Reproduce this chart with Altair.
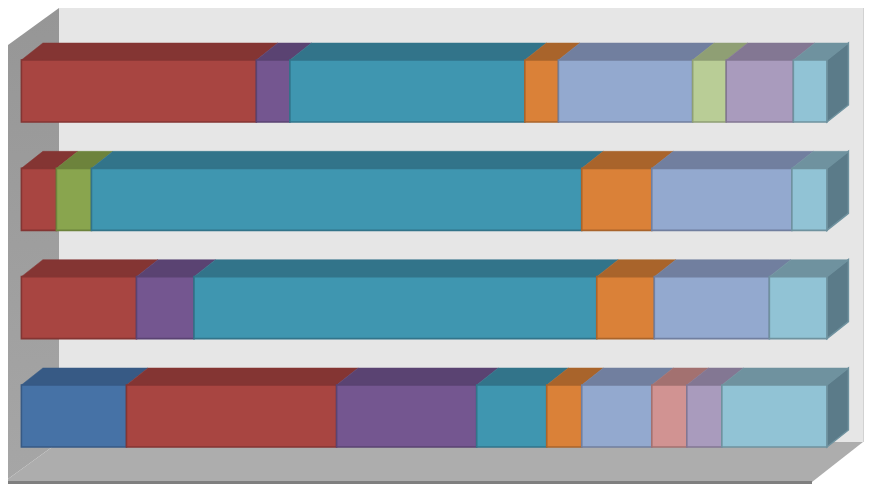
import altair as alt
import pandas as pd

# Series values per row (top to bottom); a 100% stacked 3-D bar chart
series_names = ["S1", "S2", "S3", "S4", "S5", "S6", "S7", "S8", "S9", "S10", "S11"]
row_1 = [0, 7, 0, 1, 7, 1, 4, 0, 1, 2, 1]
row_2 = [0, 1, 1, 0, 14, 2, 4, 0, 0, 0, 1]
row_3 = [0, 2, 0, 1, 7, 1, 2, 0, 0, 0, 1]
row_4 = [3, 6, 0, 4, 2, 1, 2, 1, 0, 1, 3]
front_colors = ["#4672A6", "#A84541", "#89A54E", "#745690", "#3F96B0", "#DA8138",
                "#93A9CF", "#D19392", "#B9CD96", "#A99BBD", "#91C3D5"]
top_colors = ["#375A85", "#843533", "#6D833C", "#5A4372", "#32748A", "#A9642B",
              "#717F9F", "#A37170", "#8F9F74", "#837793", "#6F929F"]
side_color = "#5B7B89"

# Pixel layout of the plotting box
W, H = 856, 476
PX_PER_PCT = 8.055     # horizontal pixels per percentage point
X0_PX = 13.4           # position of 0 %
ROW_PX = 108.33        # spacing of rows
Y0_PX = 52             # top of first bar
BAR_PX = 62            # height of bars
DX = 21.5 / PX_PER_PCT  # depth in % units
DY = 17 / ROW_PX        # depth in row units

x_scale = alt.Scale(domain=[-X0_PX / PX_PER_PCT, (W - X0_PX) / PX_PER_PCT], range=[0, W])
y_scale = alt.Scale(domain=[-Y0_PX / ROW_PX, (H - Y0_PX) / ROW_PX], range=[0, H])
BAR_H = BAR_PX / ROW_PX


def xp(px):
    return (px - X0_PX) / PX_PER_PCT


def yp(py):
    return (py - Y0_PX) / ROW_PX


front, top, side = [], [], []
for r, row in enumerate([row_1, row_2, row_3, row_4]):
    total = sum(row)
    cum = 0
    for i, v in enumerate(row):
        if v == 0:
            continue
        a = cum / total * 100
        cum += v
        b = cum / total * 100
        y0 = r
        y1 = r + BAR_H
        seg = f"{r}-{i}"
        front.append(dict(a=a, b=b, y0=y0, y1=y1, fill=front_colors[i], edge=top_colors[i]))
        top += [
            dict(seg=seg, x=a, y=y0, y2=y0, c=top_colors[i]),
            dict(seg=seg, x=a + DX, y=y0 - DY, y2=y0, c=top_colors[i]),
            dict(seg=seg, x=b, y=y0 - DY, y2=y0, c=top_colors[i]),
            dict(seg=seg, x=b + DX, y=y0 - DY, y2=y0 - DY, c=top_colors[i]),
        ]
    side += [
        dict(seg=r, x=100, y=r, y2=r + BAR_H),
        dict(seg=r, x=100 + DX, y=r - DY, y2=r + BAR_H - DY),
    ]

X = alt.X("x:Q", scale=x_scale, axis=None)
Y = alt.Y("y:Q", scale=y_scale, axis=None)

back_wall = alt.Chart(pd.DataFrame([dict(x=xp(51), x2=xp(855), y=yp(0), y2=yp(434))])).mark_rect(
    color="#E6E6E6").encode(X, alt.X2("x2:Q"), Y, alt.Y2("y2:Q"))
back_edge = alt.Chart(pd.DataFrame([dict(x=xp(855), x2=xp(856), y=yp(0), y2=yp(434))])).mark_rect(
    color="#D2D2D2").encode(X, alt.X2("x2:Q"), Y, alt.Y2("y2:Q"))

left_wall = alt.Chart(pd.DataFrame([
    dict(x=xp(-4), y=yp(474), y2=yp(40)),
    dict(x=xp(51), y=yp(434), y2=yp(0)),
])).mark_area(
    color=alt.Gradient(gradient="linear", x1=0, y1=0, x2=0, y2=1,
                       stops=[alt.GradientStop(offset=0, color="#969696"),
                              alt.GradientStop(offset=1, color="#A6A6A6")]),
).encode(X, Y, alt.Y2("y2:Q"))

floor = alt.Chart(pd.DataFrame([
    dict(x=xp(-4), y=yp(474), y2=yp(474)),
    dict(x=xp(51), y=yp(474), y2=yp(434)),
    dict(x=xp(804), y=yp(474), y2=yp(434)),
    dict(x=xp(855), y=yp(434), y2=yp(434)),
])).mark_area(color="#ADADAD").encode(X, Y, alt.Y2("y2:Q"))

floor_edge = alt.Chart(pd.DataFrame([dict(x=xp(-4), x2=xp(804), y=yp(473), y2=yp(476))])).mark_rect(
    color="#7F7F7F").encode(X, alt.X2("x2:Q"), Y, alt.Y2("y2:Q"))

tops = alt.Chart(pd.DataFrame(top)).mark_area(strokeWidth=0.5).encode(
    X, Y, alt.Y2("y2:Q"), detail="seg:N",
    color=alt.Color("c:N", scale=None), stroke=alt.Color("c:N", scale=None),
)

sides = alt.Chart(pd.DataFrame(side)).mark_area(
    color=side_color, stroke="#6F929F", strokeWidth=1.5
).encode(X, Y, alt.Y2("y2:Q"), detail="seg:N")

fronts = alt.Chart(pd.DataFrame(front)).mark_rect(strokeWidth=1.6).encode(
    alt.X("a:Q", scale=x_scale, axis=None), alt.X2("b:Q"),
    alt.Y("y0:Q", scale=y_scale, axis=None), alt.Y2("y1:Q"),
    color=alt.Color("fill:N", scale=None),
    stroke=alt.Color("edge:N", scale=None),
)

chart = alt.layer(back_wall, back_edge, left_wall, floor, floor_edge, tops, sides, fronts).properties(
    width=W, height=H, padding=0, autosize=alt.AutoSizeParams(type="none"),
    background="white",
).configure_view(stroke=None)

chart.save("out.html", embed_options={"renderer": "svg", "actions": False})
